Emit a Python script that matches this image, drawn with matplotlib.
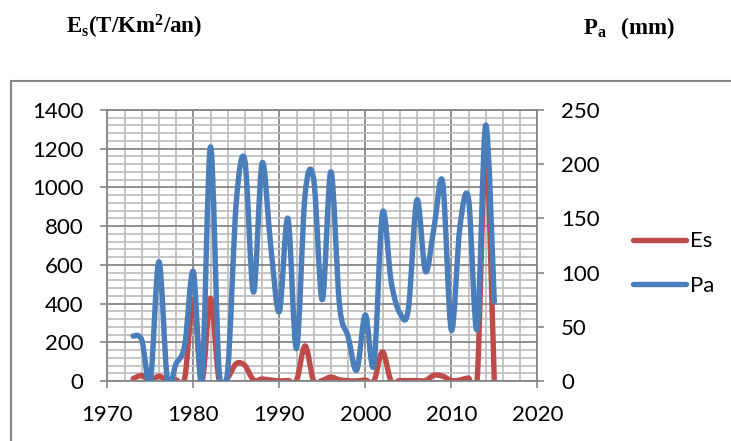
import numpy as np
import matplotlib
matplotlib.use("Agg")
import matplotlib.pyplot as plt
from matplotlib.path import Path
from matplotlib.patches import PathPatch, Rectangle
from matplotlib.lines import Line2D
from matplotlib.ticker import MultipleLocator

plt.rcParams['font.family'] = ['Lato', 'DejaVu Sans']
plt.rcParams['mathtext.fontset'] = 'custom'
plt.rcParams['mathtext.rm'] = 'Liberation Serif'
plt.rcParams['mathtext.bf'] = 'Liberation Serif:bold'
plt.rcParams['mathtext.default'] = 'bf'

# 年份与两组数据
years = list(range(1973, 2016))
es = [12, 28, 3, 25, 2, 5, 15, 420, 0, 427,
      2, 18, 90, 80, 5, 10, 5, 0, 2, 2,
      181, 0, 3, 20, 6, 2, 0, 5, 0, 150,
      0, 2, 2, 2, 2, 30, 25, 2, 5, 15,
      0, 1200, 0]
pa = [41.5, 38, 0, 110, 0, 16, 33, 101, 0, 216,
      10, 10, 165, 203, 82, 201, 125, 64, 150, 30,
      172, 186, 75, 193, 70, 41, 10, 61, 15, 155,
      92, 63, 66, 167, 101, 142, 183, 47, 142, 168,
      48, 236, 73]

x_ticks = [1970, 1980, 1990, 2000, 2010, 2020]
es_ticks = [0, 200, 400, 600, 800, 1000, 1200, 1400]
pa_ticks = [0, 50, 100, 150, 200, 250]

RED = '#BE4B48'
BLUE = '#4A7EBB'
MAJOR = '#868686'
MINOR = '#C0C0C0'


def smooth_path(x, y):
    """平滑曲线（三次贝塞尔）"""
    pts = np.column_stack([x, y]).astype(float)
    p = np.vstack([pts[0], pts, pts[-1]])
    verts = [pts[0]]
    codes = [Path.MOVETO]
    for i in range(1, len(p) - 2):
        c1 = p[i] + (p[i + 1] - p[i - 1]) / 6
        c2 = p[i + 1] - (p[i + 2] - p[i]) / 6
        verts += [c1, c2, p[i + 1]]
        codes += [Path.CURVE4] * 3
    return Path(verts, codes)


fig = plt.figure(figsize=(7.31, 4.41), dpi=100)
ax = fig.add_axes([107.3 / 731, 1 - 381 / 441, 430 / 731, 271 / 441])
ax2 = ax.twinx()

ax.set_xlim(1970, 2020)
ax.set_ylim(0, 1400)
ax2.set_ylim(0, 250)
ax.set_xticks(x_ticks)
ax.set_yticks(es_ticks)
ax2.set_yticks(pa_ticks)
ax.xaxis.set_minor_locator(MultipleLocator(2))
ax.yaxis.set_minor_locator(MultipleLocator(40))

ax.grid(which='minor', color=MINOR, lw=1.3)
ax.grid(which='major', color=MAJOR, lw=1.3)
ax.set_axisbelow(True)

for a in (ax, ax2):
    a.tick_params(which='major', direction='out', length=5, width=1.2,
                  color=MAJOR, labelsize=16, pad=12)
    a.tick_params(which='minor', length=0)
    for s in a.spines.values():
        s.set_color(MAJOR)
        s.set_linewidth(1.3)
ax.spines['right'].set_visible(False)
for s in ('left', 'top', 'bottom'):
    ax2.spines[s].set_visible(False)

ax.add_patch(PathPatch(smooth_path(years, es), fill=False, edgecolor=RED,
                       lw=3.9, capstyle='round', joinstyle='round'))
ax2.add_patch(PathPatch(smooth_path(years, pa), fill=False, edgecolor=BLUE,
                        lw=3.9, capstyle='round', joinstyle='round'))

handles = [Line2D([], [], color=RED, lw=3.9, solid_capstyle='round'),
           Line2D([], [], color=BLUE, lw=3.9, solid_capstyle='round')]
fig.legend(handles, ['Es', 'Pa'], loc='center left', bbox_to_anchor=(0.866, 0.402),
           frameon=False, fontsize=16, handlelength=2.4, handletextpad=0.15,
           labelspacing=1.1, borderpad=0, borderaxespad=0)

# 上方的单位标注
fig.text(66 / 731, 1 - 34 / 441, r'$E_s(T/Km^2/an)$', fontsize=16.5, va='baseline')
fig.text(583 / 731, 1 - 34 / 441, r'$P_a\ \ (mm)$', fontsize=16.5, va='baseline')

fig.patches.append(Rectangle((11 / 731, -0.1), 1.2, 1.1 - 81 / 441,
                             transform=fig.transFigure, fill=False,
                             edgecolor=MAJOR, lw=1.5))

fig.savefig('out.png', dpi=100)
